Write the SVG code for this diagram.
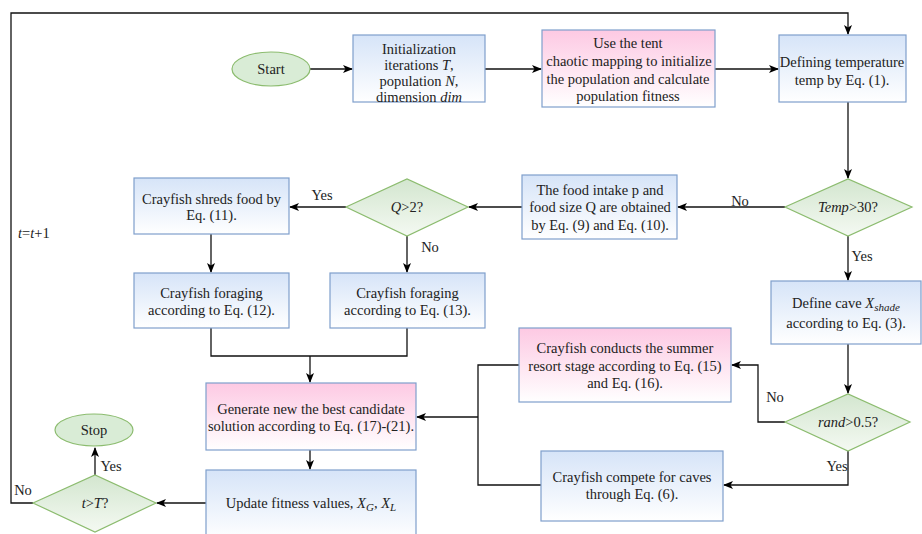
<svg xmlns="http://www.w3.org/2000/svg" width="922" height="534" viewBox="0 0 922 534">
<defs>
<linearGradient id="gb" x1="0" y1="0" x2="0" y2="1"><stop offset="0" stop-color="#d6e4f8"/><stop offset="1" stop-color="#ffffff"/></linearGradient>
<linearGradient id="gp" x1="0" y1="0" x2="0" y2="1"><stop offset="0" stop-color="#fdc9e3"/><stop offset="1" stop-color="#ffffff"/></linearGradient>
<linearGradient id="gg" x1="0" y1="0" x2="0" y2="1"><stop offset="0" stop-color="#d3e6cf"/><stop offset="1" stop-color="#f4f9f2"/></linearGradient>
<marker id="ar" markerWidth="10" markerHeight="8" refX="9" refY="4" orient="auto" markerUnits="userSpaceOnUse"><path d="M0,0 L10,4 L0,8 L2.5,4 z" fill="#000"/></marker>
<style>
.b{fill:url(#gb);stroke:#7f9fcc;stroke-width:1.2}
.p{fill:url(#gp);stroke:#7f9fcc;stroke-width:1.2}
.g{fill:url(#gg);stroke:#8cbc6f;stroke-width:1.2}
.e{fill:#d9ecd6;stroke:#8cbc6f;stroke-width:1.2}
text{font-family:'Liberation Serif','DejaVu Serif',serif;font-size:14.5px;fill:#222}
.t{text-anchor:middle}
.c{fill:none;stroke:#111;stroke-width:1.3}
.a{marker-end:url(#ar)}
</style>
</defs>
<g id="connectors">
<path class="c a" d="M33,503 H11 V13 H848 V34"/>
<path class="c a" d="M310,69 H352"/>
<path class="c a" d="M485,69 H541"/>
<path class="c a" d="M715,69 H778"/>
<path class="c a" d="M848,102 V178"/>
<path class="c a" d="M785,207 H678"/>
<path class="c a" d="M848,236 V280"/>
<path class="c a" d="M522,207 H469"/>
<path class="c a" d="M346,207 H290"/>
<path class="c a" d="M407,236 V272"/>
<path class="c a" d="M211,234 V272"/>
<path class="c" d="M211,328 V356 H407 V328"/>
<path class="c a" d="M310,356 V382"/>
<path class="c a" d="M848,344 V393"/>
<path class="c a" d="M785,422 H758 V365 H732"/>
<path class="c a" d="M848,451 V485 H724"/>
<path class="c" d="M519,365 H478 V485 H541"/>
<path class="c a" d="M478,417 H417"/>
<path class="c a" d="M310,450 V469"/>
<path class="c a" d="M206,503 H157"/>
<path class="c a" d="M95,475 V448"/>
</g>
<g id="labels">
<text x="18" y="238"><tspan font-style="italic">t</tspan>=<tspan font-style="italic">t</tspan>+1</text>
<text class="t" x="322" y="200">Yes</text>
<text class="t" x="430" y="252">No</text>
<text class="t" x="740" y="206">No</text>
<text class="t" x="862" y="261">Yes</text>
<text class="t" x="775" y="402">No</text>
<text class="t" x="837" y="471">Yes</text>
<text class="t" x="111" y="471">Yes</text>
<text class="t" x="23" y="495">No</text>
</g>
<g id="start"><ellipse class="e" cx="271" cy="69" rx="39" ry="17"/><text class="t" x="271" y="74">Start</text></g>
<g id="init"><rect class="b" x="353" y="35" width="132" height="67"/>
<text class="t" x="419" y="54">Initialization</text>
<text class="t" x="419" y="70">iterations <tspan font-style="italic">T</tspan>,</text>
<text class="t" x="419" y="86">population <tspan font-style="italic">N</tspan>,</text>
<text class="t" x="419" y="102">dimension <tspan font-style="italic">dim</tspan></text></g>
<g id="tent"><rect class="p" x="542" y="30" width="173" height="77"/>
<text class="t" x="628" y="48">Use the tent</text>
<text class="t" x="629" y="66">chaotic mapping to initialize</text>
<text class="t" x="628" y="84">the population and calculate</text>
<text class="t" x="628" y="101">population fitness</text></g>
<g id="temp"><rect class="b" x="779" y="35" width="127" height="67"/>
<text class="t" x="842" y="67">Defining temperature</text>
<text class="t" x="842" y="85">temp by Eq. (1).</text></g>
<g id="tempdec"><polygon class="g" points="785,207 848,179 912,207 848,236"/>
<text class="t" x="848" y="212"><tspan font-style="italic">Temp</tspan>&gt;30?</text></g>
<g id="food"><rect class="b" x="522" y="175" width="155" height="64"/>
<text class="t" x="600" y="195">The food intake p and</text>
<text class="t" x="600" y="212">food size Q are obtained</text>
<text class="t" x="600" y="230">by Eq. (9) and Eq. (10).</text></g>
<g id="qdec"><polygon class="g" points="346,207 407,179 468,207 407,236"/>
<text class="t" x="407" y="212"><tspan font-style="italic">Q</tspan>&gt;2?</text></g>
<g id="shreds"><rect class="b" x="134" y="178" width="155" height="56"/>
<text class="t" x="211.5" y="204">Crayfish shreds food by</text>
<text class="t" x="211.5" y="220">Eq. (11).</text></g>
<g id="forage12"><rect class="b" x="134" y="273" width="155" height="55"/>
<text class="t" x="211.5" y="298">Crayfish foraging</text>
<text class="t" x="211.5" y="315">according to Eq. (12).</text></g>
<g id="forage13"><rect class="b" x="330" y="273" width="155" height="55"/>
<text class="t" x="407.5" y="298">Crayfish foraging</text>
<text class="t" x="407.5" y="315">according to Eq. (13).</text></g>
<g id="cave"><rect class="b" x="771" y="281" width="150" height="63"/>
<text class="t" x="846" y="308">Define cave <tspan font-style="italic">X</tspan><tspan font-style="italic" font-size="11" dy="3">shade</tspan></text>
<text class="t" x="846" y="328">according to Eq. (3).</text></g>
<g id="randdec"><polygon class="g" points="785,422 848,394 910,422 848,451"/>
<text class="t" x="848" y="427"><tspan font-style="italic">rand</tspan>&gt;0.5?</text></g>
<g id="summer"><rect class="p" x="519" y="328" width="212" height="74"/>
<text class="t" x="625" y="353">Crayfish conducts the summer</text>
<text class="t" x="625" y="371">resort stage according to Eq. (15)</text>
<text class="t" x="625" y="388">and Eq. (16).</text></g>
<g id="compete"><rect class="b" x="541" y="451" width="182" height="70"/>
<text class="t" x="632" y="482">Crayfish compete for caves</text>
<text class="t" x="632" y="499">through Eq. (6).</text></g>
<g id="generate"><rect class="p" x="206" y="383" width="210" height="67"/>
<text class="t" x="311" y="414">Generate new the best candidate</text>
<text class="t" x="311" y="431">solution according to Eq. (17)-(21).</text></g>
<g id="update"><rect class="b" x="206" y="470" width="210" height="70"/>
<text class="t" x="311" y="508">Update fitness values, <tspan font-style="italic">X</tspan><tspan font-style="italic" font-size="11" dy="3">G</tspan><tspan dy="-3">, </tspan><tspan font-style="italic">X</tspan><tspan font-style="italic" font-size="11" dy="3">L</tspan></text></g>
<g id="tdec"><polygon class="g" points="33,503 95,475 156,503 95,532"/>
<text class="t" x="95" y="508"><tspan font-style="italic">t</tspan>&gt;<tspan font-style="italic">T</tspan>?</text></g>
<g id="stop"><ellipse class="e" cx="94" cy="430" rx="39" ry="16"/><text class="t" x="94" y="435">Stop</text></g>
</svg>
